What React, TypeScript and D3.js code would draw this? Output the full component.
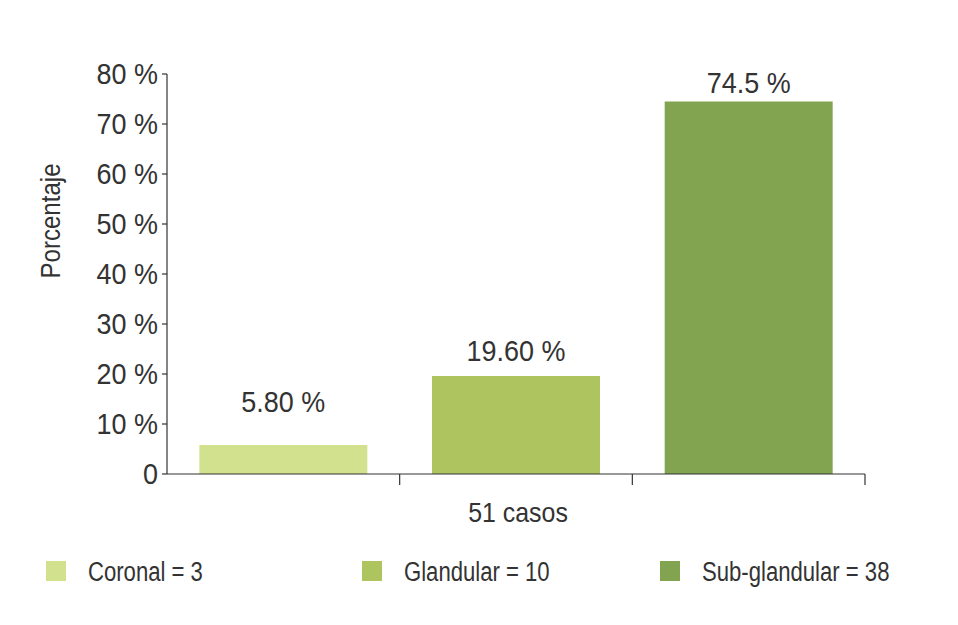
import React from "react";
import * as d3 from "d3";

const categories = ["Coronal", "Glandular", "Sub-glandular"];
const values = [5.8, 19.6, 74.5];
const valueLabels = ["5.80 %", "19.60 %", "74.5 %"];
const counts = [3, 10, 38];
const yTicks = [0, 10, 20, 30, 40, 50, 60, 70, 80];
const colors = ["#d2e18d", "#adc45f", "#82a34f"];

const W = 958;
const H = 625;
const FONT = "'Liberation Sans', Arial, sans-serif";
const TXT = "#333333";

function T({ x, y, sx = 1, size = 27, anchor = "start", rotate = 0, children }: any) {
  return (
    <g transform={`translate(${x},${y}) rotate(${rotate}) scale(${sx},1)`}>
      <text x={0} y={0} textAnchor={anchor} fontSize={size} fill={TXT}>
        {children}
      </text>
    </g>
  );
}

export default function App() {
  const x = d3.scaleBand<string>().domain(categories).range([167, 865]).paddingInner(0.278).paddingOuter(0.139);
  const y = d3.scaleLinear().domain([0, 80]).range([474, 74]);
  const step = x.step();
  const boundaries = categories.map((c) => (x(c) as number) - step * 0.139 + step);
  const legendX = [46, 362, 660];
  const labelOffset = [33, 15, 9];

  return (
    <svg width={W} height={H} style={{ position: "absolute", left: 0, top: 0, background: "#fff" }} fontFamily={FONT}>
      <rect width={W} height={H} fill="#fff" />
      {categories.map((c, i) => (
        <rect key={c} x={x(c)} y={y(values[i])} width={x.bandwidth()} height={y(0) - y(values[i])} fill={colors[i]} />
      ))}
      {categories.map((c, i) => (
        <T key={c} x={(x(c) as number) + x.bandwidth() / 2} y={y(values[i]) - labelOffset[i]} anchor="middle" size={29} sx={0.93}>
          {valueLabels[i]}
        </T>
      ))}
      <line x1={167} x2={167} y1={y(80)} y2={y(0)} stroke="#333" strokeWidth={1.2} />
      {yTicks.map((t) => (
        <g key={t}>
          <line x1={162} x2={167} y1={y(t)} y2={y(t)} stroke="#333" strokeWidth={1.2} />
          <T x={158} y={y(t) + 10} anchor="end" size={29} sx={0.93}>
            {t === 0 ? "0" : `${t} %`}
          </T>
        </g>
      ))}
      <line x1={167} x2={865} y1={y(0)} y2={y(0)} stroke="#333" strokeWidth={1.2} />
      {boundaries.map((b, i) => (
        <line key={i} x1={b} x2={b} y1={y(0)} y2={y(0) + 11} stroke="#333" strokeWidth={1.2} />
      ))}
      <T x={518} y={522} anchor="middle" size={28} sx={0.89}>51 casos</T>
      <T x={60} y={221} anchor="middle" size={28} sx={0.86} rotate={-90}>Porcentaje</T>
      {categories.map((c, i) => (
        <g key={c}>
          <rect x={legendX[i]} y={561} width={20} height={20} fill={colors[i]} />
          <T x={legendX[i] + 42} y={581} size={28} sx={0.79}>
            {`${c} = ${counts[i]}`}
          </T>
        </g>
      ))}
    </svg>
  );
}
